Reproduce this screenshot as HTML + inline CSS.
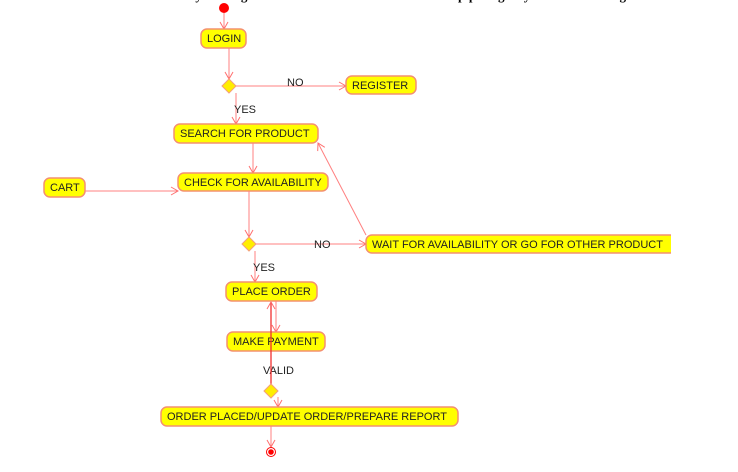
<!DOCTYPE html>
<html><head><meta charset="utf-8"><style>
html,body{margin:0;padding:0;background:#fff;width:738px;height:472px;overflow:hidden}
svg{display:block}
text{font-family:"Liberation Sans",Arial,sans-serif;font-size:11px;fill:#222}
.b{fill:#ffff00;stroke:#f49070;stroke-width:1.5}
.l{stroke:#ff8080;stroke-width:1;fill:none}
</style></head><body>
<svg width="738" height="472" viewBox="0 0 738 472">
<defs><marker id="a" markerWidth="10" markerHeight="10" refX="8" refY="5" orient="auto" markerUnits="userSpaceOnUse"><path d="M1,1 L8,5 L1,9" fill="none" stroke="#ff7070" stroke-width="1"/></marker></defs>
<text x="18" y="0" textLength="705" lengthAdjust="spacing" style="font-family:'Liberation Serif',serif;font-size:13px;font-weight:bold;fill:#000">17. Draw an Activity diagram for the Online shopping system using UML tool.</text>
<circle cx="224" cy="8" r="5" fill="#f00"/>
<line class="l" x1="224" y1="13" x2="224" y2="29" marker-end="url(#a)"/>
<rect class="b" x="201" y="29" width="45" height="19" rx="6"/><text x="207" y="42">LOGIN</text>
<line class="l" x1="229" y1="48" x2="229" y2="79" marker-end="url(#a)"/>
<path d="M229,79 L236,86 L229,93 L222,86Z" fill="#ffee00" stroke="#f4a07a"/>
<line class="l" x1="236" y1="86" x2="346" y2="86" marker-end="url(#a)"/>
<text x="287" y="86">NO</text>
<rect class="b" x="346" y="76" width="70" height="18" rx="6"/><text x="352" y="89">REGISTER</text>
<line class="l" x1="236" y1="93" x2="236" y2="124" marker-end="url(#a)"/>
<text x="234" y="113">YES</text>
<rect class="b" x="174" y="124" width="144" height="19" rx="6"/><text x="180" y="137">SEARCH FOR PRODUCT</text>
<line class="l" x1="253" y1="143" x2="253" y2="173" marker-end="url(#a)"/>
<rect class="b" x="178" y="173" width="150" height="18" rx="6"/><text x="184" y="186">CHECK FOR AVAILABILITY</text>
<rect class="b" x="44" y="178" width="41" height="19" rx="6"/><text x="50" y="191">CART</text>
<line class="l" x1="85" y1="191" x2="178" y2="191" marker-end="url(#a)"/>
<line class="l" x1="249" y1="191" x2="249" y2="237" marker-end="url(#a)"/>
<path d="M249,237 L256,244 L249,251 L242,244Z" fill="#ffee00" stroke="#f4a07a"/>
<line class="l" x1="256" y1="244" x2="366" y2="244" marker-end="url(#a)"/>
<text x="314" y="248">NO</text>
<rect class="b" x="366" y="235" width="310" height="18" rx="6"/><text x="372" y="248">WAIT FOR AVAILABILITY OR GO FOR OTHER PRODUCT</text>
<rect x="671" y="230" width="67" height="30" fill="#fff"/>
<line class="l" x1="366" y1="235" x2="318" y2="143" marker-end="url(#a)"/>
<line class="l" x1="255" y1="251" x2="255" y2="282" marker-end="url(#a)"/>
<text x="253" y="271">YES</text>
<rect class="b" x="226" y="282" width="91" height="19" rx="6"/><text x="232" y="295">PLACE ORDER</text>
<line class="l" x1="276" y1="301" x2="276" y2="332" marker-end="url(#a)"/>
<rect class="b" x="227" y="332" width="98" height="19" rx="6"/><text x="233" y="345">MAKE PAYMENT</text>
<text x="263" y="374">VALID</text>
<line x1="271" y1="384" x2="271" y2="302" stroke="#f03030" stroke-width="1.3" marker-end="url(#a)"/>
<path d="M271,384 L278,391 L271,398 L264,391Z" fill="#ffee00" stroke="#f4a07a"/>
<line class="l" x1="278" y1="397" x2="278" y2="407" marker-end="url(#a)"/>
<rect class="b" x="161" y="407" width="297" height="19" rx="6"/><text x="167" y="420">ORDER PLACED/UPDATE ORDER/PREPARE REPORT</text>
<line class="l" x1="271" y1="426" x2="271" y2="447" marker-end="url(#a)"/>
<circle cx="271" cy="452" r="4.5" fill="none" stroke="#f00"/>
<circle cx="271" cy="452" r="2.8" fill="#f00"/>
</svg>
</body></html>
